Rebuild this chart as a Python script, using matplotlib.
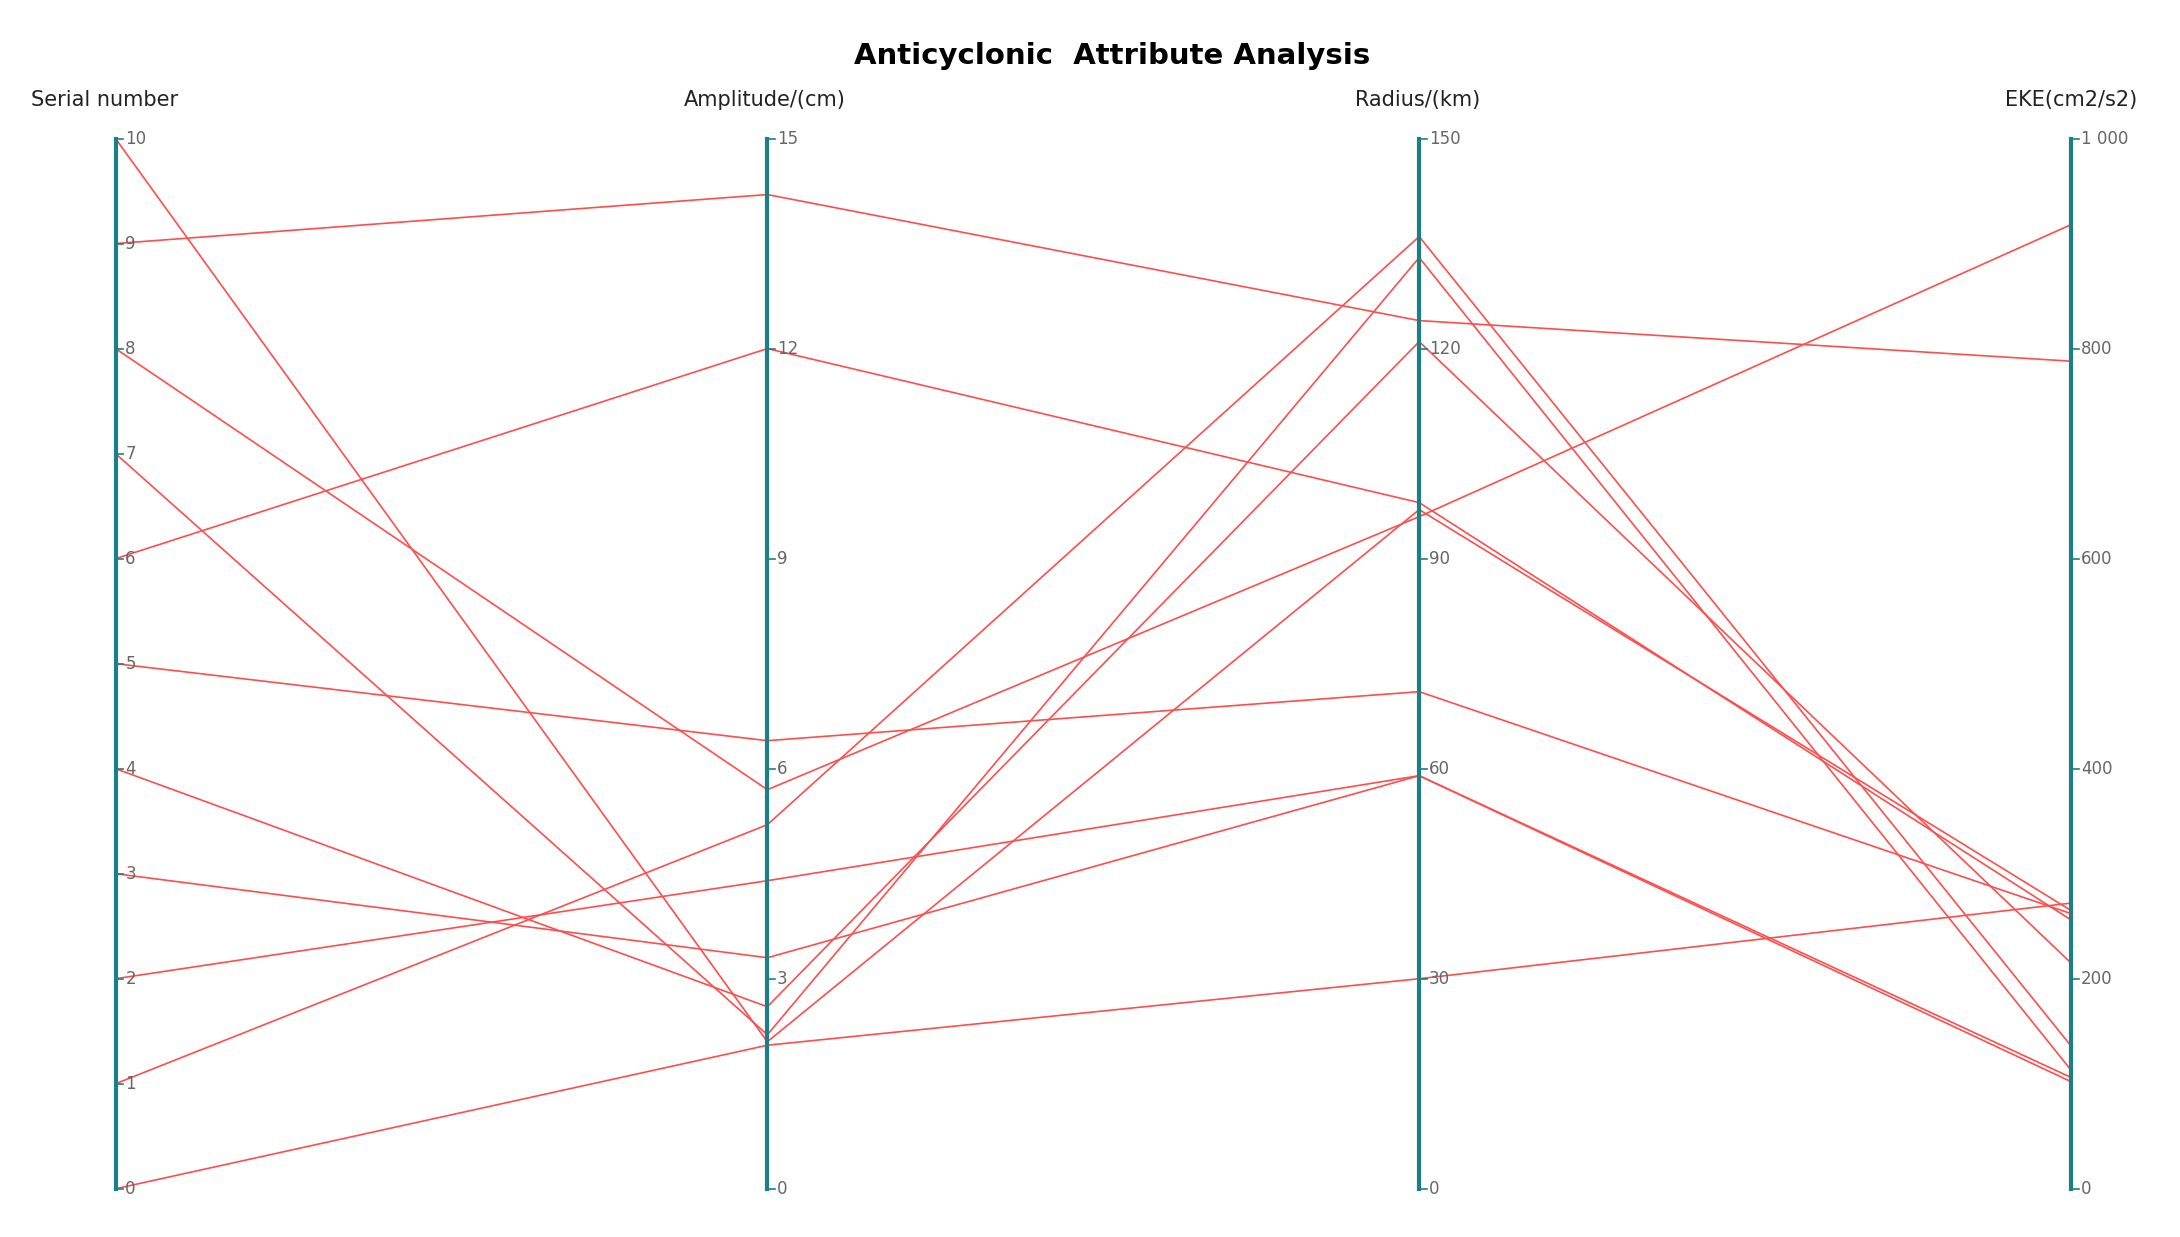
import matplotlib.pyplot as plt

# values per eddy
serial    = [0, 1, 2, 3, 4, 5, 6, 7, 8, 9, 10]
amplitude = [2.05, 5.2, 4.4, 3.3, 2.6, 6.4, 12.0, 2.2, 5.7, 14.2, 2.1]
radius    = [30, 136, 59, 59, 121, 71, 98, 133, 96, 124, 97]
eke       = [272, 136, 102, 106, 215, 262, 256, 113, 918, 788, 265]

names = ['Serial number', 'Amplitude/(cm)', 'Radius/(km)', 'EKE(cm2/s2)']
maxes = [10, 15, 150, 1000]
ticks = [list(range(0, 11)), [0, 3, 6, 9, 12, 15], [0, 30, 60, 90, 120, 150],
         [0, 200, 400, 600, 800, 1000]]
tick_labels = [[str(t) for t in ticks[0]], [str(t) for t in ticks[1]],
               [str(t) for t in ticks[2]], ['0', '200', '400', '600', '800', '1 000']]

fig = plt.figure(figsize=(21.8, 12.37), dpi=100)
ax = fig.add_axes([0.053, 0.039, 0.897, 0.849])
ax.set_xlim(0, 3)
ax.set_ylim(0, 1)
ax.axis('off')

cols = [serial, amplitude, radius, eke]
for i in range(len(serial)):
    ys = [cols[k][i] / maxes[k] for k in range(4)]
    ax.plot(range(4), ys, color='#ff4d4d', lw=1.2, clip_on=False)

axis_color = '#1b7f86'
for k in range(4):
    ax.plot([k, k], [0, 1], color=axis_color, lw=3, clip_on=False, zorder=3)
    for t, lab in zip(ticks[k], tick_labels[k]):
        y = t / maxes[k]
        ax.plot([k, k + 0.012], [y, y], color=axis_color, lw=1.2, clip_on=False, zorder=3)
        ax.text(k + 0.015, y, lab, fontsize=12, color='#666666', va='center', ha='left')

label_x = [128 / 1568, 550 / 1568, 1020 / 1568, 1490 / 1568]
for k in range(4):
    ha = 'right' if k == 0 else 'center'
    fig.text(label_x[k], 1 - 72 / 890, names[k], fontsize=15, ha=ha, va='center', color='#222222')

fig.text(0.51, 1 - 40 / 890, 'Anticyclonic  Attribute Analysis', fontsize=21,
         fontweight='bold', ha='center', va='center')

fig.savefig('out.png', dpi=100, facecolor='white')
